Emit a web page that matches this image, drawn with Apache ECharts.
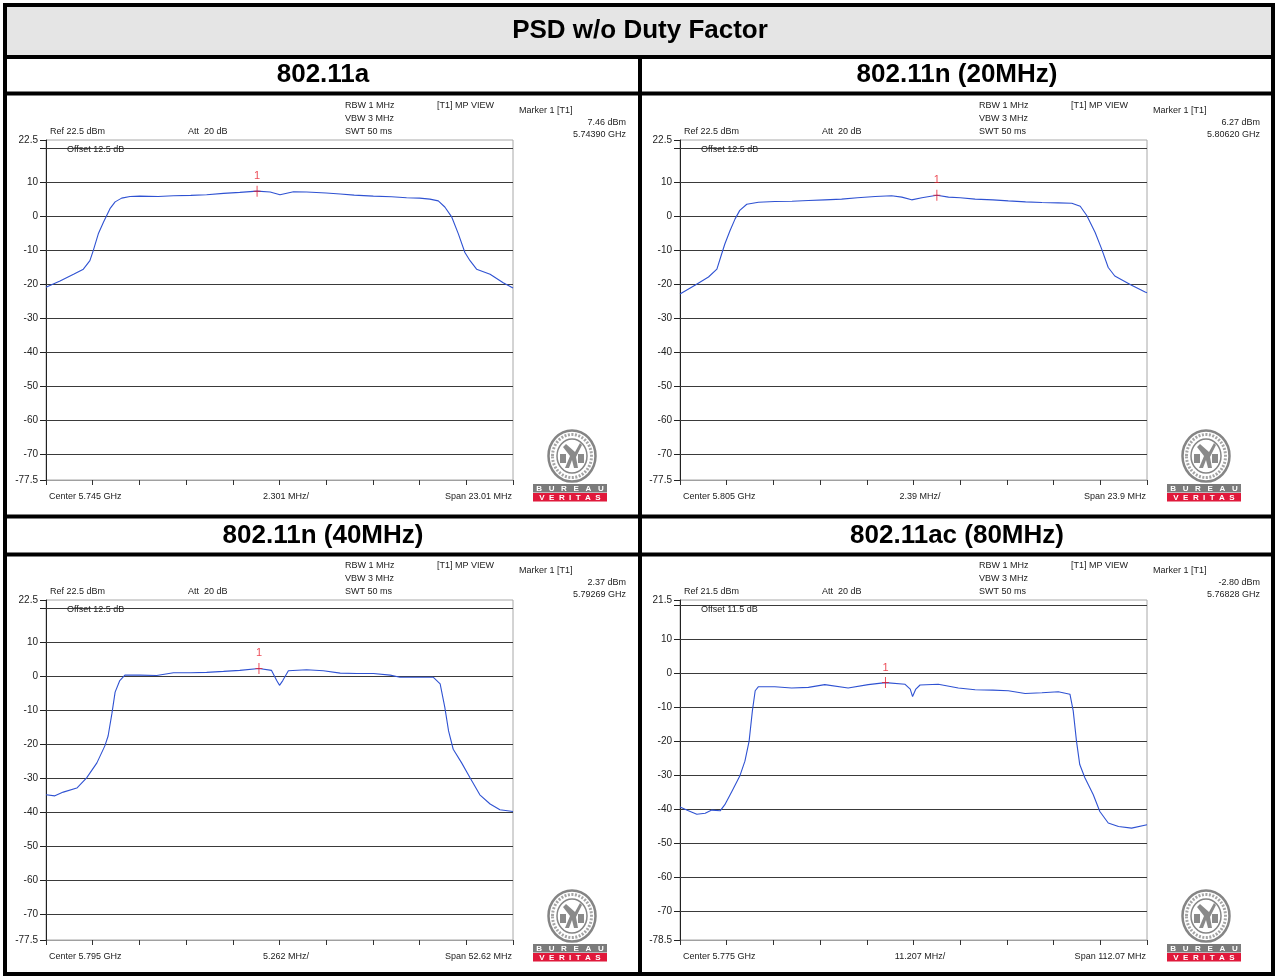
<!DOCTYPE html>
<html>
<head>
<meta charset="utf-8">
<title>PSD w/o Duty Factor</title>
<script src="https://cdn.jsdelivr.net/npm/echarts@6/dist/echarts.min.js"></script>
<style>
  html, body { margin: 0; padding: 0; background: #fff; }
  #chart { width: 1277px; height: 976px; }
</style>
</head>
<body>
<div id="chart"></div>
<script>
// traces, x = division (0..10), y = dBm
const trace11a = [
  [0, -20.8], [0.3, -19], [0.59, -17], [0.8, -15.5], [0.94, -13], [1.01, -10.1], [1.12, -5.1],
  [1.23, -1.7], [1.3, 0.3], [1.37, 2.3], [1.48, 4.3], [1.62, 5.4], [1.8, 5.9], [2.01, 6.0],
  [2.4, 5.9], [2.73, 6.1], [3.1, 6.2], [3.44, 6.4], [3.8, 6.8], [4.15, 7.1], [4.52, 7.46],
  [4.8, 7.2], [5.01, 6.4], [5.3, 7.3], [5.58, 7.2], [6.0, 6.9], [6.3, 6.6], [6.6, 6.3],
  [7.01, 6.0], [7.4, 5.8], [7.72, 5.5], [8.0, 5.4], [8.22, 5.1], [8.4, 4.6], [8.54, 2.8],
  [8.69, -0.2], [8.83, -5.1], [8.97, -10.6], [9.08, -13], [9.22, -15.5], [9.51, -17],
  [9.79, -19.5], [10, -21]
]
const trace11n20 = [
  [0, -22.8], [0.04, -22.5], [0.32, -20.2], [0.61, -17.8], [0.79, -15.5], [0.89, -11.1],
  [0.96, -8.1], [1.07, -4.2], [1.18, -0.7], [1.28, 1.8], [1.43, 3.6], [1.68, 4.2], [2.03, 4.4],
  [2.4, 4.5], [2.75, 4.7], [3.1, 4.9], [3.46, 5.1], [3.8, 5.5], [4.18, 5.9], [4.53, 6.1],
  [4.75, 5.7], [4.96, 4.9], [5.18, 5.5], [5.5, 6.27], [5.75, 5.7], [6.0, 5.5], [6.32, 5.1],
  [6.7, 4.9], [7.03, 4.6], [7.4, 4.3], [7.75, 4.1], [8.1, 4.0], [8.39, 3.9], [8.57, 3.0],
  [8.71, 0.3], [8.89, -4.7], [9.03, -9.6], [9.17, -15], [9.31, -17.5], [9.67, -20.2],
  [9.96, -22.2], [10, -22.4]
]
const trace11n40 = [
  [0, -34.8], [0.19, -35.1], [0.37, -34.0], [0.66, -32.8], [0.87, -29.8], [1.09, -25.4],
  [1.26, -20.4], [1.33, -17.5], [1.41, -11.0], [1.48, -4.6], [1.58, -1.2], [1.69, 0.4],
  [2.01, 0.4], [2.37, 0.3], [2.73, 1.1], [3.1, 1.1], [3.44, 1.2], [3.8, 1.5], [4.15, 1.8],
  [4.56, 2.37], [4.83, 1.8], [4.94, -1.2], [5.0, -2.6], [5.07, -1.2], [5.19, 1.7], [5.58, 2.0],
  [5.94, 1.7], [6.3, 1.0], [6.65, 0.9], [7.01, 0.9], [7.37, 0.4], [7.58, -0.2], [7.95, -0.2],
  [8.29, -0.2], [8.44, -2.2], [8.54, -9.1], [8.62, -16.0], [8.72, -21.4], [8.9, -25.4],
  [9.08, -29.8], [9.29, -34.8], [9.51, -37.5], [9.72, -39.2], [10, -39.7]
]
const trace11ac80 = [
  [0, -39.4], [0.18, -40.5], [0.36, -41.5], [0.54, -41.2], [0.68, -40.3], [0.86, -40.5],
  [0.96, -38.7], [1.11, -34.8], [1.28, -30.3], [1.39, -25.9], [1.48, -20], [1.55, -11.1],
  [1.61, -5.2], [1.68, -4.0], [2.03, -4.0], [2.39, -4.4], [2.75, -4.2], [3.1, -3.4],
  [3.6, -4.4], [4.03, -3.4], [4.4, -2.8], [4.82, -3.3], [4.93, -4.7], [4.98, -6.9],
  [5.05, -4.7], [5.14, -3.5], [5.53, -3.3], [5.96, -4.4], [6.32, -4.9], [6.7, -5.0],
  [7.03, -5.2], [7.39, -6.0], [7.75, -5.8], [8.1, -5.5], [8.35, -6.2], [8.42, -11.1],
  [8.49, -20], [8.56, -26.9], [8.67, -30.8], [8.85, -35.8], [8.99, -40.7], [9.17, -44.1],
  [9.39, -45.1], [9.67, -45.6], [10, -44.6]
]
const traces = [trace11a, trace11n20, trace11n40, trace11ac80]

const mainTitle = 'PSD w/o Duty Factor'
const panelTitles = ['802.11a', '802.11n (20MHz)', '802.11n (40MHz)', '802.11ac (80MHz)']
const refLevels = [22.5, 22.5, 22.5, 21.5]
const offsets = ['12.5', '12.5', '12.5', '11.5']
const centers = ['5.745 GHz', '5.805 GHz', '5.795 GHz', '5.775 GHz']
const perDiv = ['2.301 MHz/', '2.39 MHz/', '5.262 MHz/', '11.207 MHz/']
const spans = ['23.01 MHz', '23.9 MHz', '52.62 MHz', '112.07 MHz']
const markerPos = [[4.52, 7.46], [5.5, 6.27], [4.56, 2.37], [4.4, -2.80]]
const markerFreq = ['5.74390 GHz', '5.80620 GHz', '5.79269 GHz', '5.76828 GHz']
const gridLevels = [20, 10, 0, -10, -20, -30, -40, -50, -60, -70]
const labelLevels = [10, 0, -10, -20, -30, -40, -50, -60, -70]

const FONT = '"Liberation Sans", Arial, sans-serif'
const BLUE = '#2f52d2'
const RED = '#e8212e'
// panel offsets (left/right, top/bottom)
const origins = [[0, 0], [634, 0], [0, 460], [634, 460]]

const chart = echarts.init(document.getElementById('chart'))

function txt(x, y, s, align, font, color) {
  return {
    type: 'text', x: x, y: y, z: 10,
    style: {
      text: s, fill: color || '#222', font: font || ('9px ' + FONT),
      textAlign: align || 'left', textVerticalAlign: 'middle'
    }
  }
}

function logo(ox, oy) {
  const cx = ox + 572, cy = oy + 456
  return [
    { type: 'ellipse', z: 10, shape: { cx: cx, cy: cy, rx: 23.5, ry: 25.5 }, style: { fill: '#fff', stroke: '#858585', lineWidth: 2.5 } },
    { type: 'ellipse', z: 10, shape: { cx: cx, cy: cy, rx: 19.5, ry: 21.5 }, style: { fill: 'none', stroke: '#a5a5a5', lineWidth: 3, lineDash: [2, 1.5] } },
    { type: 'ellipse', z: 10, shape: { cx: cx, cy: cy, rx: 15, ry: 17 }, style: { fill: '#fff', stroke: '#858585', lineWidth: 1.5 } },
    { type: 'polygon', z: 10, shape: { points: [[cx - 6, cy - 12], [cx + 3, cy - 4], [cx + 8, cy - 13], [cx + 10, cy - 11], [cx + 4, cy + 1], [cx + 6, cy + 12], [cx + 2, cy + 12], [cx, cy + 4], [cx - 3, cy + 12], [cx - 7, cy + 12], [cx - 2, cy], [cx - 9, cy - 9]] }, style: { fill: '#8a8a8a' } },
    { type: 'rect', z: 10, shape: { x: cx - 12, y: cy - 2, width: 6, height: 9 }, style: { fill: '#8a8a8a' } },
    { type: 'rect', z: 10, shape: { x: cx + 6, y: cy - 2, width: 6, height: 9 }, style: { fill: '#8a8a8a' } },
    { type: 'rect', z: 10, shape: { x: ox + 533, y: oy + 484, width: 74, height: 8.5 }, style: { fill: '#7b7b7b' } },
    { type: 'rect', z: 10, shape: { x: ox + 533, y: oy + 493, width: 74, height: 8.5 }, style: { fill: '#e0193b' } },
    txt(ox + 570, oy + 488.5, 'B   U   R   E   A   U', 'center', 'bold 8px ' + FONT, '#fff'),
    txt(ox + 570, oy + 497.5, 'V  E  R  I  T  A  S', 'center', 'bold 8px ' + FONT, '#fff')
  ]
}

// frame, headers, instrument text
let graphic = [
  { type: 'rect', shape: { x: 5, y: 5, width: 1268, height: 52 }, style: { fill: '#e5e5e5' } },
  { type: 'rect', z: 20, shape: { x: 5, y: 5, width: 1268, height: 969 }, style: { fill: 'none', stroke: '#000', lineWidth: 4 } },
  { type: 'line', z: 20, shape: { x1: 5, y1: 57, x2: 1273, y2: 57 }, style: { stroke: '#000', lineWidth: 4 } },
  { type: 'line', z: 20, shape: { x1: 5, y1: 93.5, x2: 1273, y2: 93.5 }, style: { stroke: '#000', lineWidth: 4 } },
  { type: 'line', z: 20, shape: { x1: 5, y1: 516.5, x2: 1273, y2: 516.5 }, style: { stroke: '#000', lineWidth: 4 } },
  { type: 'line', z: 20, shape: { x1: 5, y1: 554.5, x2: 1273, y2: 554.5 }, style: { stroke: '#000', lineWidth: 4 } },
  { type: 'line', z: 20, shape: { x1: 640, y1: 57, x2: 640, y2: 974 }, style: { stroke: '#000', lineWidth: 4 } },
  txt(640, 31, mainTitle, 'center', 'bold 26px ' + FONT, '#000')
]
const headerPos = [[323, 75], [957, 75], [323, 536], [957, 536]]
panelTitles.forEach((t, i) => {
  graphic.push(txt(headerPos[i][0], headerPos[i][1], t, 'center', 'bold 26px ' + FONT, '#000'))
})
origins.forEach(([ox, oy], i) => {
  graphic.push(
    txt(ox + 345, oy + 106, 'RBW 1 MHz'),
    txt(ox + 345, oy + 119, 'VBW 3 MHz'),
    txt(ox + 345, oy + 132, 'SWT 50 ms'),
    txt(ox + 437, oy + 106, '[T1] MP VIEW'),
    txt(ox + 519, oy + 111, 'Marker 1 [T1]'),
    txt(ox + 626, oy + 123, markerPos[i][1].toFixed(2) + ' dBm', 'right'),
    txt(ox + 626, oy + 135, markerFreq[i], 'right'),
    txt(ox + 50, oy + 132, 'Ref ' + refLevels[i] + ' dBm'),
    txt(ox + 188, oy + 132, 'Att  20 dB'),
    txt(ox + 67, oy + 150, 'Offset ' + offsets[i] + ' dB'),
    txt(ox + 49, oy + 497, 'Center ' + centers[i]),
    txt(ox + 286, oy + 497, perDiv[i], 'center'),
    txt(ox + 512, oy + 497, 'Span ' + spans[i], 'right')
  )
  graphic = graphic.concat(logo(ox, oy))
})

const grid = [], xAxis = [], yAxis = [], series = []
origins.forEach(([ox, oy], i) => {
  const top = refLevels[i], bottom = refLevels[i] - 100
  grid.push({
    left: 46 + ox, top: 140 + oy, width: 467, height: 340,
    show: true, borderColor: '#a8a8a8', borderWidth: 1
  })
  xAxis.push({
    gridIndex: i, type: 'value', min: 0, max: 10, interval: 1,
    axisLine: { show: true, onZero: false, lineStyle: { color: '#a0a0a0' } },
    axisTick: { show: true, length: 5, lineStyle: { color: '#333' } },
    axisLabel: { show: false },
    splitLine: { show: false }
  })
  yAxis.push({
    gridIndex: i, type: 'value', min: bottom, max: top,
    axisLine: { show: true, onZero: false, lineStyle: { color: '#222' } },
    axisTick: { show: true, length: 6, customValues: [top].concat(gridLevels, [bottom]), lineStyle: { color: '#222' } },
    axisLabel: { customValues: [top].concat(labelLevels, [bottom]), fontSize: 10, color: '#222', margin: 8, fontFamily: FONT },
    splitLine: { show: false }
  })
  series.push({
    type: 'line', xAxisIndex: i, yAxisIndex: i, data: traces[i],
    symbol: 'none', lineStyle: { color: BLUE, width: 1.1 }, z: 3,
    markLine: {
      silent: true, symbol: ['none', 'none'], label: { show: false }, z: 2,
      lineStyle: { color: '#3a3a3a', width: 1, type: 'solid' },
      data: gridLevels.map(v => ({ yAxis: v }))
    }
  })
  series.push({
    type: 'scatter', xAxisIndex: i, yAxisIndex: i, data: [markerPos[i]], z: 5,
    symbol: 'path://M0,5h7v1H0zM3,0h1v11H3z', symbolSize: [7, 11],
    itemStyle: { color: RED },
    label: { show: true, formatter: '1', position: 'top', distance: 4, color: RED, fontSize: 11, fontFamily: FONT }
  })
})

chart.setOption({
  animation: false,
  backgroundColor: '#fff',
  grid: grid,
  xAxis: xAxis,
  yAxis: yAxis,
  series: series,
  graphic: graphic
})
</script>
</body>
</html>
